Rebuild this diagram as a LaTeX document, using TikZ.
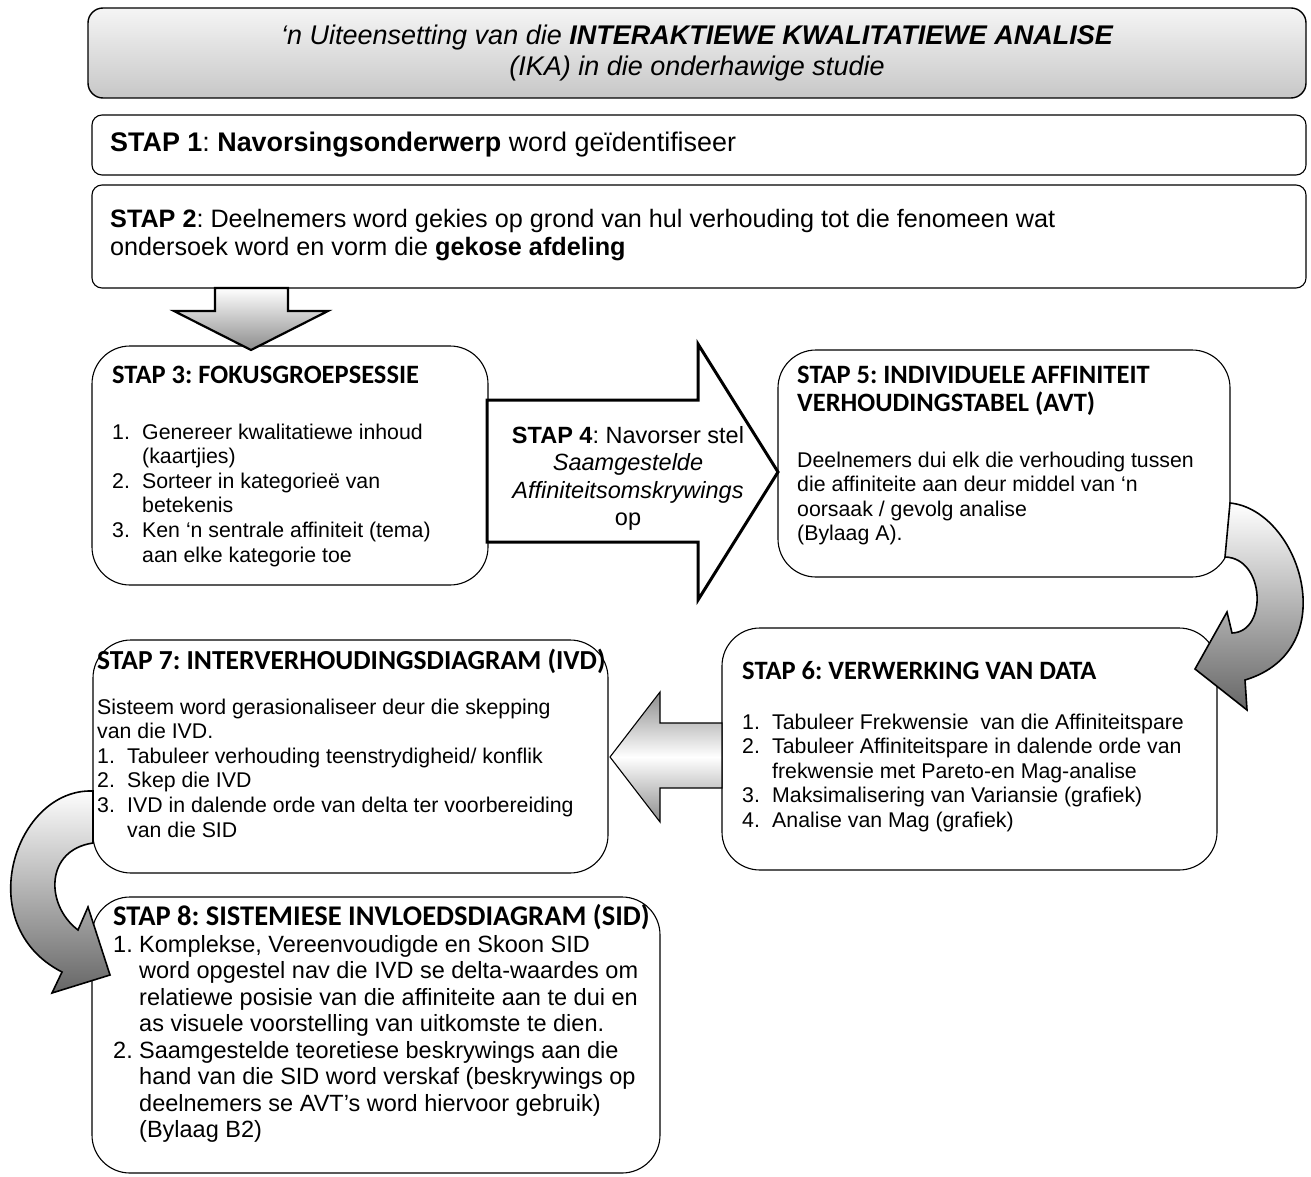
\documentclass[tikz,border=0pt]{standalone}
\usepackage{fontspec}
\setmainfont[Ligatures=NoCommon]{Liberation Sans}
\newfontfamily\headfont{Carlito}
\frenchspacing
\newcommand\bodysize{\fontsize{21.3pt}{24.6pt}\selectfont}
\newcommand\headsize{\headfont\bfseries\fontsize{26.5pt}{28pt}\selectfont}
\newcommand\num[1]{\makebox[30pt][l]{#1}}
\newcommand\ind{\hspace*{30pt}}
\newcommand\numb[1]{\makebox[26pt][l]{#1}}
\newcommand\indb{\hspace*{26pt}}
\begin{document}
\begin{tikzpicture}[x=1pt,y=-1pt,
  panel/.style={draw, line width=1.1pt, rounded corners=38pt, inner sep=0pt, outer sep=0pt, anchor=north west},
  strip/.style={draw, line width=1.1pt, rounded corners=10pt, inner sep=0pt, outer sep=0pt, anchor=north west},
  txt/.style={inner sep=0pt, anchor=base west, align=left, font=\bodysize},
  head/.style={inner sep=0pt, anchor=base west, align=left, font=\headsize},
  shadedarrow/.style={draw, line width=1.6pt, line join=miter},
]
\useasboundingbox (0,0) rectangle (1311,1177);
% multi-line text nodes are placed by the baseline of their last line

% heading banner
\node[strip, rounded corners=15pt, line width=1.4pt, minimum width=1218pt, minimum height=90pt,
      top color=black!4, bottom color=black!22] (banner) at (88,8) {};
\node[inner sep=0pt, anchor=base, align=center, font=\fontsize{27pt}{31pt}\selectfont\itshape] (bannertext) at (697,76)
  {‘n Uiteensetting van die \textbf{INTERAKTIEWE KWALITATIEWE ANALISE}\\(IKA) in die onderhawige studie};

% steps 1 and 2
\node[strip, minimum width=1214pt, minimum height=60pt] (s1) at (92,115) {};
\node[txt, font=\fontsize{26.9pt}{28pt}\selectfont] (s1t) at (110,152)
  {\textbf{STAP 1}: \textbf{Navorsingsonderwerp} word geïdentifiseer};
\node[strip, minimum width=1214pt, minimum height=103pt] (s2) at (92,185) {};
\node[txt, font=\fontsize{25.2pt}{28pt}\selectfont] (s2t) at (110,255)
  {\textbf{STAP 2}: Deelnemers word gekies op grond van hul verhouding tot die fenomeen wat\\ondersoek word en vorm die \textbf{gekose afdeling}};

% step 3
\node[panel, minimum width=396pt, minimum height=239pt] (s3) at (92,346) {};
\node[head] (s3h) at (112,383) {STAP 3: FOKUSGROEPSESSIE};
\node[txt] (s3t) at (112,562)
  {\num{1.}Genereer kwalitatiewe inhoud\\\ind(kaartjies)\\\num{2.}Sorteer in kategorieë van\\\ind betekenis\\\num{3.}Ken ‘n sentrale affiniteit (tema)\\\ind aan elke kategorie toe};

% down arrow from step 2 to step 3
\draw[shadedarrow, line width=2.2pt, top color=white, bottom color=black!45]
  (215,288) -- (288,288) -- (288,311) -- (328,311) -- (251,350) -- (174,311) -- (215,311) -- cycle;

% step 4 block arrow
\draw[line width=3pt, fill=white, line join=miter]
  (487,400) -- (698,400) -- (698,344) -- (778,472) -- (698,600) -- (698,542) -- (487,542) -- cycle;
\node[inner sep=0pt, anchor=base, align=center, font=\fontsize{23.5pt}{27.3pt}\selectfont] (s4t) at (628,525.4)
  {\textbf{STAP 4}: Navorser stel\\\textit{Saamgestelde}\\\textit{Affiniteitsomskrywings}\\op};

% step 5
\node[panel, minimum width=452pt, minimum height=227pt] (s5) at (778,350) {};
\node[head] (s5h) at (797,411.5) {STAP 5: INDIVIDUELE AFFINITEIT\\VERHOUDINGSTABEL (AVT)};
\node[txt] (s5t) at (797,540.8)
  {Deelnemers dui elk die verhouding tussen\\die affiniteite aan deur middel van ‘n\\oorsaak / gevolg analise\\(Bylaag A).};

% step 6
\node[panel, minimum width=495pt, minimum height=242pt] (s6) at (722,628) {};
\node[head] (s6h) at (742,679.5) {STAP 6: VERWERKING VAN DATA};
\node[txt] (s6t) at (742,827.4)
  {\num{1.}Tabuleer Frekwensie\ \ van die Affiniteitspare\\\num{2.}Tabuleer Affiniteitspare in dalende orde van\\\ind frekwensie met Pareto-en Mag-analise\\\num{3.}Maksimalisering van Variansie (grafiek)\\\num{4.}Analise van Mag (grafiek)};

% curved arrow from step 5 to step 6
\draw[shadedarrow, top color=white, bottom color=black!60]
  (1230,503) .. controls (1300,510) and (1345,650) .. (1245,680)
  -- (1247,710) -- (1195,669) -- (1227,612) -- (1232,633)
  .. controls (1268,632) and (1265,558) .. (1225,557) -- cycle;

% step 7
\node[panel, minimum width=515pt, minimum height=233pt] (s7) at (93,640) {};
\node[head, font=\headfont\bfseries\fontsize{27.5pt}{28pt}\selectfont] (s7h) at (97,669.5) {STAP 7: INTERVERHOUDINGSDIAGRAM (IVD)};
\node[txt] (s7t) at (97,837)
  {Sisteem word gerasionaliseer deur die skepping\\van die IVD.\\\num{1.}Tabuleer verhouding teenstrydigheid/ konflik\\\num{2.}Skep die IVD\\\num{3.}IVD in dalende orde van delta ter voorbereiding\\\ind van die SID};

% arrow from step 6 back to step 7
\draw[draw, line width=1.1pt, line join=miter, top color=black!45, bottom color=black!45, middle color=white]
  (722,723) -- (660,723) -- (660,692) -- (610,757) -- (660,822) -- (660,788) -- (722,788) -- cycle;

% step 8
\node[panel, minimum width=568pt, minimum height=276pt] (s8) at (92,897) {};
\node[head, font=\headfont\bfseries\fontsize{28.5pt}{30pt}\selectfont] (s8h) at (113,925) {STAP 8: SISTEMIESE INVLOEDSDIAGRAM (SID)};
\node[txt, font=\fontsize{23.5pt}{26.5pt}\selectfont] (s8t) at (113,1137.5)
  {\numb{1.}Komplekse, Vereenvoudigde en Skoon SID\\\indb word opgestel nav die IVD se delta-waardes om\\\indb relatiewe posisie van die affiniteite aan te dui en\\\indb as visuele voorstelling van uitkomste te dien.\\\numb{2.}Saamgestelde teoretiese beskrywings aan die\\\indb hand van die SID word verskaf (beskrywings op\\\indb deelnemers se AVT’s word hiervoor gebruik)\\\indb (Bylaag B2)};

% curved arrow from step 7 to step 8
\draw[shadedarrow, top color=white, bottom color=black!60]
  (93,791) .. controls (15,788) and (-30,925) .. (62,972)
  -- (52,993) -- (110,975) -- (88,907) -- (78,930)
  .. controls (45,905) and (45,850) .. (93,843) -- cycle;
\end{tikzpicture}
\end{document}
